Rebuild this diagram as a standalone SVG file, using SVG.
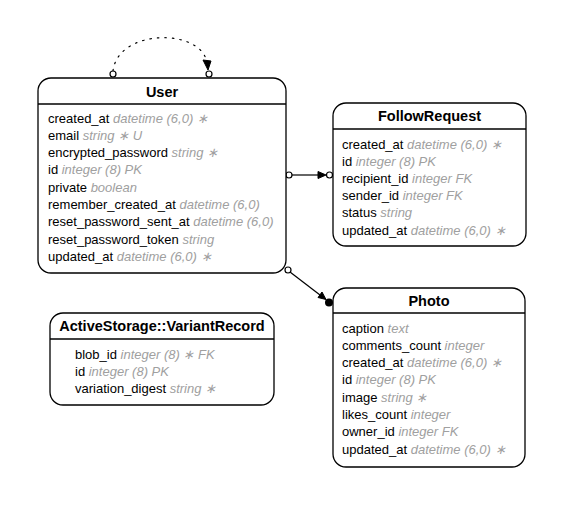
<svg xmlns="http://www.w3.org/2000/svg" width="563" height="505" viewBox="0 0 563 505">
<style>
.box{fill:#fff;stroke:#000;stroke-width:1.3}
.sep{stroke:#000;stroke-width:1.3}
.t{font-family:"Liberation Sans",Arial,sans-serif;font-size:14.5px;font-weight:bold;text-anchor:middle;fill:#000}
.f{font-family:"Liberation Sans",Arial,sans-serif;font-size:13px;fill:#000}
.g{fill:#a0a0a0;font-style:italic}
.edge{fill:none;stroke:#000;stroke-width:1.2}
.oc{fill:#fff;stroke:#000;stroke-width:1.2}
</style>
<rect width="563" height="505" fill="#fff"/>
<g id="connectors">
  <path class="edge" d="M113,71 C118,28 202,28 207,63" stroke-dasharray="1.5,6" stroke-linecap="round"/>
  <polygon points="203,60 211,61 208,70" fill="#000" stroke="#000" stroke-width="1"/>
  <circle class="oc" cx="113" cy="74" r="3"/>
  <circle class="oc" cx="209" cy="74" r="3"/>
  <line class="edge" x1="292" y1="175" x2="319" y2="175"/>
  <polygon points="318,171.5 326,175 318,178.5" fill="#000" stroke="#000" stroke-width="1"/>
  <circle class="oc" cx="289" cy="175" r="3"/>
  <circle class="oc" cx="329.5" cy="175" r="3"/>
  <line class="edge" x1="290" y1="272" x2="320" y2="295"/>
  <polygon points="318,297.5 322,292 326,299.5" fill="#000" stroke="#000" stroke-width="1"/>
  <circle class="oc" cx="288" cy="270" r="3"/>
  <circle cx="329" cy="302.5" r="4" fill="#000"/>
</g>
<g id="User">
  <rect class="box" x="38" y="78" width="248" height="195" rx="13"/>
  <line class="sep" x1="38" y1="104" x2="286" y2="104"/>
  <text class="t" x="162" y="96.5">User</text>
  <text class="f" x="48" y="122.5">created_at <tspan class="g">datetime (6,0) ∗</tspan></text>
  <text class="f" x="48" y="139.8">email <tspan class="g">string ∗ U</tspan></text>
  <text class="f" x="48" y="157.1">encrypted_password <tspan class="g">string ∗</tspan></text>
  <text class="f" x="48" y="174.4">id <tspan class="g">integer (8) PK</tspan></text>
  <text class="f" x="48" y="191.7">private <tspan class="g">boolean</tspan></text>
  <text class="f" x="48" y="209">remember_created_at <tspan class="g">datetime (6,0)</tspan></text>
  <text class="f" x="48" y="226.3">reset_password_sent_at <tspan class="g">datetime (6,0)</tspan></text>
  <text class="f" x="48" y="243.6">reset_password_token <tspan class="g">string</tspan></text>
  <text class="f" x="48" y="260.9">updated_at <tspan class="g">datetime (6,0) ∗</tspan></text>
</g>
<g id="FollowRequest">
  <rect class="box" x="333" y="103" width="193" height="143" rx="13"/>
  <line class="sep" x1="333" y1="129" x2="526" y2="129"/>
  <text class="t" x="429.5" y="121">FollowRequest</text>
  <text class="f" x="342" y="148.5">created_at <tspan class="g">datetime (6,0) ∗</tspan></text>
  <text class="f" x="342" y="165.7">id <tspan class="g">integer (8) PK</tspan></text>
  <text class="f" x="342" y="182.9">recipient_id <tspan class="g">integer FK</tspan></text>
  <text class="f" x="342" y="200.1">sender_id <tspan class="g">integer FK</tspan></text>
  <text class="f" x="342" y="217.3">status <tspan class="g">string</tspan></text>
  <text class="f" x="342" y="234.5">updated_at <tspan class="g">datetime (6,0) ∗</tspan></text>
</g>
<g id="Photo">
  <rect class="box" x="333" y="288" width="192" height="179" rx="13"/>
  <line class="sep" x1="333" y1="313" x2="525" y2="313"/>
  <text class="t" x="429" y="305.5">Photo</text>
  <text class="f" x="342" y="332.5">caption <tspan class="g">text</tspan></text>
  <text class="f" x="342" y="349.8">comments_count <tspan class="g">integer</tspan></text>
  <text class="f" x="342" y="367.1">created_at <tspan class="g">datetime (6,0) ∗</tspan></text>
  <text class="f" x="342" y="384.4">id <tspan class="g">integer (8) PK</tspan></text>
  <text class="f" x="342" y="401.7">image <tspan class="g">string ∗</tspan></text>
  <text class="f" x="342" y="419">likes_count <tspan class="g">integer</tspan></text>
  <text class="f" x="342" y="436.3">owner_id <tspan class="g">integer FK</tspan></text>
  <text class="f" x="342" y="453.6">updated_at <tspan class="g">datetime (6,0) ∗</tspan></text>
</g>
<g id="ActiveStorageVariantRecord">
  <rect class="box" x="50" y="313" width="224" height="92" rx="13"/>
  <line class="sep" x1="50" y1="339" x2="274" y2="339"/>
  <text class="t" x="162" y="331">ActiveStorage::VariantRecord</text>
  <text class="f" x="75" y="358.5">blob_id <tspan class="g">integer (8) ∗ FK</tspan></text>
  <text class="f" x="75" y="375.8">id <tspan class="g">integer (8) PK</tspan></text>
  <text class="f" x="75" y="393.1">variation_digest <tspan class="g">string ∗</tspan></text>
</g>
</svg>
